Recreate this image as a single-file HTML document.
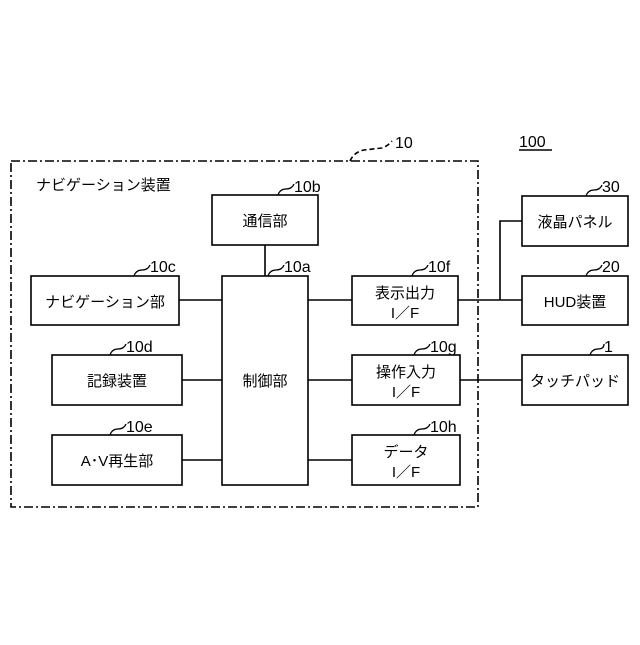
<!DOCTYPE html>
<html><head><meta charset="utf-8"><style>
body{margin:0;background:#fff}
svg text{font-family:"Liberation Sans","Noto Sans CJK JP",sans-serif;fill:#000}
</style></head><body>
<svg width="640" height="640" viewBox="0 0 640 640" xmlns="http://www.w3.org/2000/svg">
<g fill="none" stroke="#000" stroke-width="1.6">
<rect x="11" y="161" width="467" height="346" stroke-dasharray="9,3,2,3"/>
<path d="M350 161 Q354 152 364 150 L382 148 Q388 146 392 141" stroke-dasharray="5,3"/>
<rect x="212" y="195" width="106" height="50"/>
<rect x="222" y="276" width="86" height="209"/>
<rect x="31" y="276" width="148" height="49"/>
<rect x="52" y="355" width="130" height="50"/>
<rect x="52" y="435" width="130" height="50"/>
<rect x="352" y="276" width="106" height="49"/>
<rect x="352" y="355" width="108" height="50"/>
<rect x="352" y="435" width="108" height="50"/>
<rect x="522" y="196" width="106" height="50"/>
<rect x="522" y="276" width="106" height="49"/>
<rect x="522" y="355" width="106" height="50"/>
<path d="M265 245V276M179 300H222M182 380H222M182 460H222M308 300H352M308 380H352M308 460H352M458 300H522M500 300V221H522M460 380H522"/>
<path d="M519 150H552" stroke-width="1.4"/>
<g stroke-width="1.3">
<path d="M278 195q2-6 8-6t8-5"/>
<path d="M268 276q2-6 8-6t8-5"/>
<path d="M134 276q2-6 8-6t8-5"/>
<path d="M110 355q2-6 8-6t8-5"/>
<path d="M110 435q2-6 8-6t8-5"/>
<path d="M412 276q2-6 8-6t8-5"/>
<path d="M414 355q2-6 8-6t8-5"/>
<path d="M414 435q2-6 8-6t8-5"/>
<path d="M586 196q2-6 8-6t8-5"/>
<path d="M586 276q2-6 8-6t8-5"/>
<path d="M590 355q2-6 8-6t6-5"/>
</g>
</g>
<g font-size="16">
<text x="395" y="148">10</text>
<text x="519" y="147">100</text>
<text x="294" y="192">10b</text>
<text x="284" y="272">10a</text>
<text x="150" y="272">10c</text>
<text x="126" y="352">10d</text>
<text x="126" y="432">10e</text>
<text x="428" y="272">10f</text>
<text x="430" y="352">10g</text>
<text x="430" y="432">10h</text>
<text x="602" y="192">30</text>
<text x="602" y="272">20</text>
<text x="604" y="352">1</text>
</g>
<g font-size="15">
<text x="36" y="190">ナビゲーション装置</text>
<text x="265" y="226" text-anchor="middle">通信部</text>
<text x="105" y="307" text-anchor="middle">ナビゲーション部</text>
<text x="117" y="386" text-anchor="middle">記録装置</text>
<text x="117" y="466" text-anchor="middle">A･V再生部</text>
<text x="265" y="386" text-anchor="middle">制御部</text>
<text x="405" y="298" text-anchor="middle">表示出力</text>
<text x="405" y="318" text-anchor="middle">I／F</text>
<text x="406" y="377" text-anchor="middle">操作入力</text>
<text x="406" y="397" text-anchor="middle">I／F</text>
<text x="406" y="457" text-anchor="middle">データ</text>
<text x="406" y="477" text-anchor="middle">I／F</text>
<text x="575" y="227" text-anchor="middle">液晶パネル</text>
<text x="575" y="307" text-anchor="middle">HUD装置</text>
<text x="575" y="386" text-anchor="middle">タッチパッド</text>
</g>
</svg>
</body></html>
